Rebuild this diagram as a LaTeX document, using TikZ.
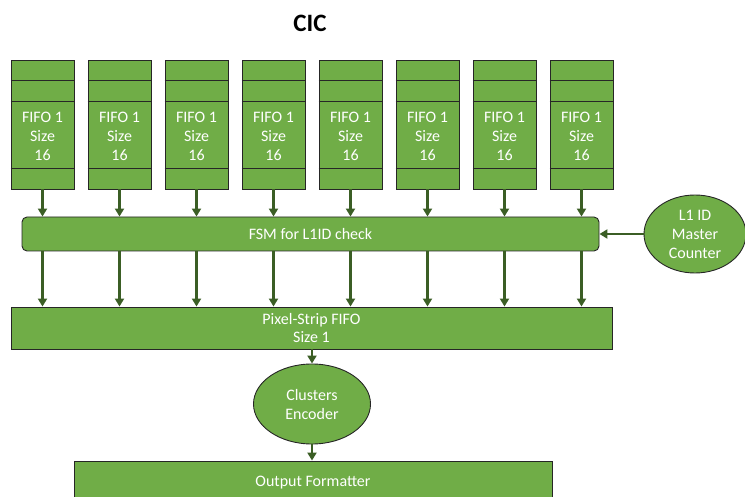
\documentclass[tikz,border=0pt]{standalone}
\usepackage{fontspec}
\setmainfont{Carlito}
\usetikzlibrary{arrows.meta,shapes.geometric}
\definecolor{boxgreen}{HTML}{70AD47}
\definecolor{arrowgreen}{HTML}{3B5E25}

\begin{document}
\begin{tikzpicture}[x=1pt, y=-1pt]
	\tikzstyle{every node} = [font=\fontsize{16}{19}\selectfont, text=white, align=center, inner sep=0pt]
	\tikzstyle{block} = [draw=black!85, line width=0.9pt, fill=boxgreen]
	\tikzstyle{divider} = [draw=black!85, line width=0.9pt]
	\tikzstyle{link} = [draw=arrowgreen, line width=2.6pt, -{Triangle[length=8pt,width=9pt]}]
	\clip (0,0) rectangle (745,497);
	\node[font=\bfseries\fontsize{25}{28}\selectfont, text=black] (title) at (310,23) {CIC};
	% input fifos
	\foreach \i in {1,...,8} {
		\pgfmathsetmacro{\x}{42.5+77*(\i-1)}
		\node[block, minimum width=63pt, minimum height=129pt] (fifo\i) at (\x,124.5) {};
		\node (fifotext\i) at (\x,136) {FIFO 1\\Size\\16};
		\draw[divider] ([yshift=-21pt]fifo\i.north west) -- ([yshift=-21pt]fifo\i.north east);
		\draw[divider] ([yshift=-42pt]fifo\i.north west) -- ([yshift=-42pt]fifo\i.north east);
		\draw[divider] ([yshift=21pt]fifo\i.south west) -- ([yshift=21pt]fifo\i.south east);
	}
	\node[block, rounded corners=5pt, minimum width=577pt, minimum height=34pt] (fsm) at (310.5,234) {FSM for L1ID check};
	\node[block, ellipse, minimum width=102pt, minimum height=78pt] (master) at (695,234) {L1 ID\\Master\\Counter};
	\node[block, minimum width=601pt, minimum height=42pt] (pix) at (311.5,328) {Pixel-Strip FIFO\\Size 1};
	\node[block, ellipse, minimum width=117pt, minimum height=80pt] (enc) at (312,404) {Clusters\\Encoder};
	\node[block, minimum width=478pt, minimum height=44pt] (out) at (313,483) {Output Formatter};
	% connectors
	\foreach \i in {1,...,8} {
		\draw[link] (fifo\i.south) -- (fsm.north -| fifo\i);
		\draw[link] (fsm.south -| fifo\i) -- (pix.north -| fifo\i);
	}
	\draw[link] (master.west) -- (fsm.east);
	\draw[link] (pix.south -| enc) -- (enc.north);
	\draw[link] (enc.south) -- (out.north -| enc);
\end{tikzpicture}
\end{document}
